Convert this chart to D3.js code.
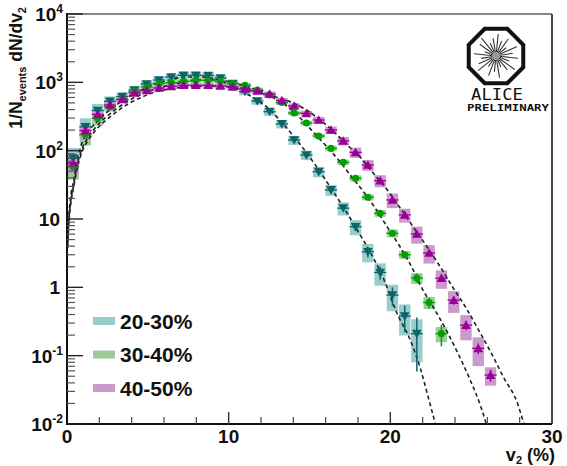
<!DOCTYPE html>
<html><head><meta charset="utf-8">
<script src="https://cdn.jsdelivr.net/npm/d3@7/dist/d3.min.js"></script>
<style>body{margin:0;background:#fff}svg{display:block}</style>
</head><body>
<svg id="c" width="567" height="466"></svg>
<script>
// ---------- data ----------
const categories = ["20-30%", "30-40%", "40-50%"];
const binCenters = [0.38,1.14,1.90,2.66,3.42,4.18,4.93,5.69,6.45,7.21,7.97,8.73,9.49,10.25,11.01,11.77,12.53,13.29,14.05,14.81,15.57,16.33,17.09,17.85,18.61,19.37,20.13,20.89,21.64,22.40,23.16,23.92,24.68,25.44,26.20];

const vals2030 = [78,224,387,528,621,773,946,1082,1197,1268,1268,1259,1158,955,735,533,372,246,143,86.4,49.2,26.6,14.4,7.7,3.32,1.65,0.77,0.38,0.21];
const sys2030  = [0.40,0.33,0.25,0.18,0.14,0.12,0.12,0.12,0.11,0.11,0.11,0.11,0.11,0.11,0.12,0.12,0.13,0.14,0.15,0.16,0.17,0.18,0.22,0.25,0.30,0.36,0.42,0.48,0.62];
const stat2030 = [0.05,0.03,0.02,0.02,0.02,0.02,0.02,0.02,0.02,0.02,0.02,0.02,0.02,0.02,0.02,0.02,0.03,0.03,0.04,0.05,0.06,0.08,0.10,0.13,0.17,0.22,0.30,0.42,0.72];

const vals3040 = [58,170,298,440,561,730,855,962,989,1035,1072,1072,1035,962,906,773,653,507,356,254,164,108,67.6,39.4,20.8,12.1,6.18,3.0,1.37,0.60,0.21];
const sys3040  = [0.35,0.30,0.22,0.15,0.10,0.08,0.08,0.08,0.08,0.08,0.08,0.08,0.08,0.08,0.08,0.08,0.08,0.08,0.08,0.08,0.08,0.09,0.09,0.10,0.10,0.11,0.13,0.13,0.18,0.20,0.25];
const stat3040 = [0.05,0.03,0.02,0.02,0.02,0.02,0.02,0.02,0.02,0.02,0.02,0.02,0.02,0.02,0.02,0.02,0.02,0.02,0.02,0.03,0.03,0.03,0.04,0.04,0.05,0.06,0.08,0.10,0.15,0.18,0.35];

const vals4050 = [66,197,339,466,561,698,760,826,875,906,906,906,885,855,800,747,675,542,451,352,281,201,139,94.6,61.7,36.4,19.0,11.5,6.04,3.18,1.36,0.65,0.28,0.128,0.052];
const sys4050  = [0.30,0.25,0.18,0.14,0.10,0.09,0.09,0.09,0.09,0.09,0.09,0.09,0.09,0.09,0.09,0.09,0.09,0.09,0.09,0.09,0.11,0.12,0.14,0.17,0.18,0.20,0.24,0.23,0.28,0.30,0.30,0.35,0.40,0.45,0.30];
const stat4050 = [0.05,0.03,0.02,0.02,0.02,0.02,0.02,0.02,0.02,0.02,0.02,0.02,0.02,0.02,0.02,0.02,0.02,0.02,0.02,0.02,0.03,0.03,0.03,0.04,0.04,0.05,0.06,0.07,0.08,0.10,0.12,0.14,0.16,0.18,0.20];

// dashed fit curves (v2 %, value)
const fit2030x = [0.04,0.1,0.2,0.42,0.62,0.93,1.24,1.73,2.35,2.97,3.77,4.64,5.45,6.37,7.30,8.23,9.16,10.09,11.02,11.76,12.57,13.37,14.11,14.92,15.66,16.40,17.21,17.95,18.75,19.56,20.43,21.23,21.85,22.34,22.78,23.0];
const fit2030y = [4.5,10,19,37,70,129,181,246,344,451,610,773,946,1082,1197,1197,1120,915,698,552,394,246,153,86.4,48.8,26.6,13.5,6.9,3.29,1.37,0.407,0.170,0.066,0.0248,0.010,0.006];
const fit3040x = [0.04,0.105,0.204,0.415,0.619,0.928,1.238,1.733,2.352,2.971,3.775,4.642,5.447,6.375,7.303,8.232,9.16,10.09,11.02,11.76,12.56,13.68,14.42,15.23,16.09,16.9,17.52,18.26,19.06,19.81,20.61,21.42,21.85,22.65,23.52,24.2,24.94,25.56,25.93,26.1];
const fit3040y = [4.17,9.04,16.0,32.5,59.7,106,148,215,301,394,533,675,800,915,1012,1082,1082,1012,885,773,631,436,301,188,113,68.3,44.1,26.6,14.5,7.64,3.89,1.79,1.08,0.515,0.222,0.106,0.044,0.019,0.010,0.007];
const fit4050x = [0.04,0.105,0.204,0.415,0.619,0.928,1.238,1.733,2.352,2.971,3.775,4.642,5.447,6.375,7.303,8.232,9.16,10.09,11.02,11.95,12.69,13.37,14.61,15.66,16.71,17.33,18.13,18.94,19.81,20.61,21.42,22.28,23.09,23.89,24.76,25.56,26.37,26.99,27.86,28.23,28.4];
const fit4050y = [3.77,8.17,14.5,29.4,53.9,95.7,134,194,272,356,482,610,722,800,855,885,885,855,800,698,631,570,421,281,170,121,80.9,47.1,26.6,14.5,7.64,3.89,1.99,0.977,0.466,0.215,0.0957,0.0487,0.0203,0.0107,0.008];

const yTickVals = [0.01,0.1,1,10,100,1000,10000];
const yTickBase = ["10","10","1","10","10","10","10"];
const yTickExp  = ["-2","-1","","","2","3","4"];
const xTickVals = [0,10,20,30];
const xTickLabels = ["0","10","20","30"];

const boxColors = ["#99cccc","#99cc99","#cc99cc"];
const markColors = ["#0a6468","#00a000","#990099"];

// ---------- setup ----------
const svg = d3.select("#c");
const L = 67, R = 552, T = 14, B = 424;
const x = d3.scaleLinear().domain([0,30]).range([L,R]);
const y = d3.scaleLog().domain([0.01,10000]).range([B,T]);
const FONT = "'Liberation Sans', Arial, Helvetica, sans-serif";

svg.append("defs").append("clipPath").attr("id","clip")
  .append("rect").attr("x",L).attr("y",T).attr("width",R-L).attr("height",B-T);

const series = [
  {name:categories[0], v:vals2030, sys:sys2030, st:stat2030, fx:fit2030x, fy:fit2030y, sym:"down"},
  {name:categories[1], v:vals3040, sys:sys3040, st:stat3040, fx:fit3040x, fy:fit3040y, sym:"circle"},
  {name:categories[2], v:vals4050, sys:sys4050, st:stat4050, fx:fit4050x, fy:fit4050y, sym:"up"}
];

const plot = svg.append("g").attr("clip-path","url(#clip)");

// systematic boxes
series.forEach((s,i) => {
  const d = s.v.map((v,k)=>({x:binCenters[k], v, e:s.sys[k]}));
  plot.append("g").selectAll("rect").data(d).join("rect")
    .attr("x", p => x(p.x-0.35))
    .attr("width", p => x(p.x+0.35)-x(p.x-0.35))
    .attr("y", p => y(p.v*(1+p.e)))
    .attr("height", p => y(Math.max(p.v*(1-p.e),1e-3)) - y(p.v*(1+p.e)))
    .attr("fill", boxColors[i]);
});

// fit curves
const line = d3.line().x(d=>x(d[0])).y(d=>y(d[1])).curve(d3.curveMonotoneX);
series.forEach(s => {
  plot.append("path").datum(s.fx.map((v,k)=>[v, s.fy[k]]))
    .attr("d", line).attr("fill","none").attr("stroke","#222")
    .attr("stroke-width",1.6).attr("stroke-dasharray","4,3");
});

// markers + error bars
series.forEach((s,i) => {
  const g = plot.append("g");
  const d = s.v.map((v,k)=>({x:binCenters[k], v, e:s.st[k]}));
  g.selectAll(".xe").data(d).join("line")
    .attr("x1", p=>x(p.x-0.38)).attr("x2", p=>x(p.x+0.38))
    .attr("y1", p=>y(p.v)).attr("y2", p=>y(p.v))
    .attr("stroke", markColors[i]).attr("stroke-width",1.3);
  g.selectAll(".ye").data(d).join("line")
    .attr("x1", p=>x(p.x)).attr("x2", p=>x(p.x))
    .attr("y1", p=>y(p.v*(1+p.e))).attr("y2", p=>y(Math.max(p.v*(1-p.e),1e-3)))
    .attr("stroke", markColors[i]).attr("stroke-width",1.5);
  const sym = s.sym==="circle" ? d3.symbol(d3.symbolCircle, 40) : d3.symbol(d3.symbolTriangle, 42);
  g.selectAll("path").data(d).join("path")
    .attr("d", sym)
    .attr("transform", p => `translate(${x(p.x)},${y(p.v) + (s.sym==="down"?-1:(s.sym==="up"?1:0))})` + (s.sym==="down" ? " rotate(180)" : ""))
    .attr("fill", markColors[i]);
});

// ---------- frame & axes ----------
svg.append("line").attr("x1",L).attr("x2",R).attr("y1",T).attr("y2",T).attr("stroke","#888").attr("stroke-width",2);
svg.append("line").attr("x1",R).attr("x2",R).attr("y1",T).attr("y2",B).attr("stroke","#111").attr("stroke-width",1.5);
svg.append("line").attr("x1",L).attr("x2",L).attr("y1",T-1).attr("y2",B+1).attr("stroke","#111").attr("stroke-width",2);
svg.append("line").attr("x1",L-1).attr("x2",R).attr("y1",B).attr("y2",B).attr("stroke","#111").attr("stroke-width",2);

// y ticks
const yMinor = [];
for (let dec=-2; dec<4; dec++) for (let m=2; m<10; m++) yMinor.push(m*Math.pow(10,dec));
svg.append("g").selectAll("line").data(yMinor).join("line")
  .attr("x1",L).attr("x2",L+8).attr("y1",d=>y(d)).attr("y2",d=>y(d))
  .attr("stroke","#555").attr("stroke-width",1.2);
svg.append("g").selectAll("line").data(yTickVals).join("line")
  .attr("x1",L).attr("x2",L+16).attr("y1",d=>y(d)).attr("y2",d=>y(d))
  .attr("stroke","#222").attr("stroke-width",1.4);

const yl = svg.append("g").attr("font-family",FONT).attr("font-weight","bold").attr("fill","#111");
yTickVals.forEach((v,k) => {
  const t = yl.append("text").attr("x", yTickExp[k] ? 63 : 60).attr("y", y(v)+7)
    .attr("text-anchor","end").attr("font-size",19);
  t.append("tspan").text(yTickBase[k]);
  if (yTickExp[k]) t.append("tspan").attr("font-size",12).attr("dy",-8).text(yTickExp[k]);
});

// x ticks
const xMinor = d3.range(2,30,2).filter(v=>v%10!==0);
svg.append("g").selectAll("line").data(xMinor).join("line")
  .attr("x1",d=>x(d)).attr("x2",d=>x(d)).attr("y1",B).attr("y2",B-7)
  .attr("stroke","#444").attr("stroke-width",1.2);
svg.append("g").selectAll("line").data(xTickVals.slice(1,3)).join("line")
  .attr("x1",d=>x(d)).attr("x2",d=>x(d)).attr("y1",B).attr("y2",B-12)
  .attr("stroke","#333").attr("stroke-width",1.4);
svg.append("g").selectAll("text").data(xTickVals).join("text")
  .attr("x",d=>x(d)).attr("y",443).attr("text-anchor","middle")
  .attr("font-family",FONT).attr("font-weight","bold").attr("font-size",19).attr("fill","#111")
  .text((d,k)=>xTickLabels[k]);

// axis titles
const xt = svg.append("text").attr("x",555).attr("y",461).attr("text-anchor","end")
  .attr("font-family",FONT).attr("font-weight","bold").attr("font-size",18).attr("fill","#111");
xt.append("tspan").text("v");
xt.append("tspan").attr("font-size",11).attr("dy",3).text("2");
xt.append("tspan").attr("dy",-3).text(" (%)");

const ytt = svg.append("text").attr("transform","translate(22,7) rotate(-90)").attr("text-anchor","end")
  .attr("font-family",FONT).attr("font-weight","bold").attr("font-size",17.5).attr("fill","#111");
ytt.append("tspan").text("1/N");
ytt.append("tspan").attr("font-size",11).attr("dy",4).text("events");
ytt.append("tspan").attr("dy",-4).text(" dN/dv");
ytt.append("tspan").attr("font-size",11).attr("dy",4).text("2");

// legend
const lg = svg.append("g");
categories.forEach((c,i) => {
  const cy = 321 + i*33.5;
  lg.append("rect").attr("x",93).attr("y",cy-4).attr("width",22).attr("height",8).attr("fill",boxColors[i]);
  lg.append("text").attr("x",120).attr("y",cy+7.5).attr("font-family",FONT).attr("font-weight","bold")
    .attr("font-size",21).attr("fill","#111").text(c);
});

// ALICE logo
const logo = svg.append("g").attr("transform","translate(496,56)");
const oct = d3.range(8).map(k => { const a = Math.PI/8 + k*Math.PI/4; return [29.5*Math.cos(a), 29.5*Math.sin(a)]; });
logo.append("polygon").attr("points", oct.map(p=>p.join(",")).join(" "))
  .attr("fill","#fff").attr("stroke","#111").attr("stroke-width",4);
const rayLens = [22,14,23,18,12,22,16,21,13,23,19,15,22,12,20,23,14,18,22,16,21,13,23,17];
rayLens.forEach((len,k) => {
  const a = k*2*Math.PI/rayLens.length + 0.1;
  logo.append("line").attr("x1",3*Math.cos(a)).attr("y1",3*Math.sin(a))
    .attr("x2",len*Math.cos(a)).attr("y2",len*Math.sin(a))
    .attr("stroke","#333").attr("stroke-width",1.1);
});
logo.append("circle").attr("r",4).attr("fill","#999");
svg.append("text").attr("x",497).attr("y",100).attr("text-anchor","middle")
  .attr("font-family","'DejaVu Sans Mono', monospace").attr("font-size",16).attr("fill","#111")
  .attr("textLength",52).attr("lengthAdjust","spacingAndGlyphs").text("ALICE");
svg.append("text").attr("x",508).attr("y",111).attr("text-anchor","middle")
  .attr("font-family","'DejaVu Sans Mono', monospace").attr("font-weight","bold").attr("font-size",9).attr("fill","#111")
  .attr("textLength",82).attr("lengthAdjust","spacingAndGlyphs").text("PRELIMINARY");
</script>
</body></html>
